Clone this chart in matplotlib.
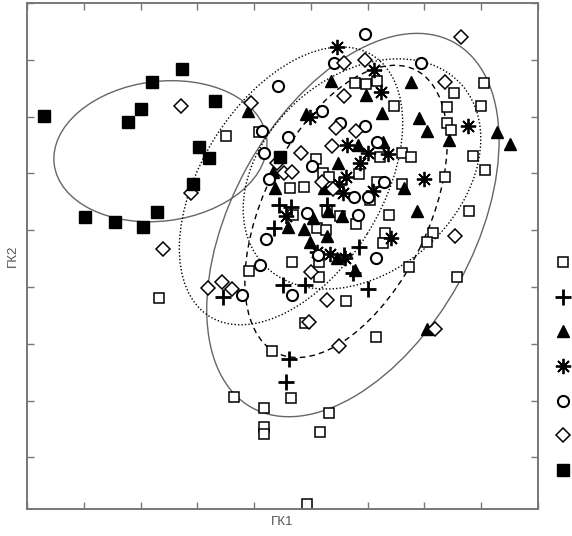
import numpy as np
import matplotlib
matplotlib.use("Agg")
import matplotlib.pyplot as plt
from matplotlib.patches import Ellipse

plt.rcParams['font.family'] = ['Liberation Sans', 'DejaVu Sans']

# --- данные (ГК1, ГК2) ---
sq_x = [-0.49, 0.09, -1.67, -0.09, 0.32, -0.35, 0.18, 0.18, 0.18, 0.65, 1.32, 1.16, 0.93,
        2.15, 3.57, 1.62, 2.73, 0.67, 1.14, 0.90, 4.05, 4.00, 3.52, 3.40, 3.40, 3.47, 3.86,
        4.07, 3.79, 3.36, 2.61, 2.76, 2.46, 1.78, 1.97, 2.17, 1.85, 1.09, 1.21, 1.32, 0.63,
        0.88, 2.22, 2.17, 2.61, 2.04, 1.29, 1.51, 1.80, 1.11, 1.27, 0.69, 2.38, 2.31, 2.27,
        3.15, 3.05, 1.14]
sq_y = [2.66, 2.73, -0.19, 0.28, -1.13, -1.94, -2.13, -2.46, -2.59, -1.95, -2.22, -2.55, -3.82,
        -0.88, 0.18, -0.25, 0.35, 0.44, 0.18, -0.63, 3.59, 3.19, 3.42, 3.17, 2.89, 2.76, 2.31,
        2.06, 1.34, 1.94, 2.36, 2.29, 3.19, 3.59, 3.57, 3.63, 1.99, 2.25, 2.01, 1.94, 1.74,
        1.76, 2.29, 1.85, 1.81, 1.53, 1.34, 1.25, 1.11, 1.04, 1.00, 1.27, 1.27, 0.95, 0.77,
        0.95, 0.79, 0.44]

plus_x = [0.44, 0.65, 0.35, 1.29, 1.85, 1.58, 1.74, 2.01, 0.51, 0.90, -0.55, 0.62, 0.56]
plus_y = [1.44, 1.41, 1.04, 1.44, 0.70, 0.56, 0.25, -0.04, 0.04, 0.04, -0.18, -1.27, -1.67]

tri_x = [-0.11, 1.36, 0.92, 1.97, 2.76, 2.25, 2.90, 3.05, 4.28, 4.51, 3.43, 2.87, 2.64, 1.83,
         2.27, 1.48, 1.23, 1.30, 1.55, 1.04, 0.60, 0.88, 1.29, 0.99, 1.46, 0.33, 0.37, 1.78, 3.05]
tri_y = [3.10, 3.63, 3.05, 3.38, 3.61, 3.06, 2.98, 2.75, 2.73, 2.52, 2.59, 1.34, 1.74, 2.50,
         2.55, 2.18, 1.74, 1.34, 1.25, 1.21, 1.06, 1.02, 0.90, 0.79, 0.51, 2.02, 1.74, 0.30, -0.74]

ast_x = [1.46, 2.11, 2.24, 0.99, 3.77, 2.99, 1.64, 2.01, 2.36, 1.87, 1.62, 1.50, 1.57, 2.10,
         2.41, 1.11, 0.56, 1.34, 1.60]
ast_y = [4.23, 3.82, 3.43, 2.99, 2.83, 1.90, 2.50, 2.36, 2.34, 2.18, 1.94, 1.81, 1.65, 1.69,
         0.86, 0.62, 1.25, 0.58, 0.51]

circ_x = [1.95, 2.94, 1.41, 0.42, 1.20, 0.14, 0.60, 0.18, 0.26, 1.51, 1.95, 2.17, 1.02, 2.29,
          1.76, 2.01, 1.83, 0.93, 1.13, 0.21, 0.11, -0.21, 0.67, 2.15]
circ_y = [4.45, 3.94, 3.94, 3.54, 3.10, 2.75, 2.64, 2.36, 1.90, 2.89, 2.83, 2.55, 2.13, 1.85,
          1.58, 1.58, 1.27, 1.30, 0.56, 0.85, 0.39, -0.14, -0.14, 0.51]

dia_x = [-1.29, -0.05, -1.11, -1.60, 1.58, 3.64, 1.95, 3.36, 1.58, 1.44, 1.80, 1.37, 0.83, 0.40,
         0.53, 0.67, 1.20, 1.39, -0.81, -0.56, -0.39, 1.00, 1.29, 0.97, 1.50, 3.19, 3.54]
dia_y = [3.19, 3.24, 1.65, 0.67, 3.94, 4.40, 4.00, 3.61, 3.36, 2.80, 2.75, 2.48, 2.36, 2.18,
         2.01, 2.02, 1.85, 1.73, -0.02, 0.09, -0.04, 0.26, -0.23, -0.62, -1.04, -0.74, 0.90]

fsq_x = [-3.70, -1.80, -1.27, -1.99, -2.22, -0.69, -0.97, -0.79, -1.07, -2.98, -2.45, -1.95, -1.71, 0.46]
fsq_y = [3.01, 3.61, 3.84, 3.13, 2.90, 3.27, 2.46, 2.27, 1.81, 1.23, 1.14, 1.06, 1.32, 2.29]

# эллипсы: центр, ширина, высота, угол
ell_cx = [1.74, -1.65, 0.65, 1.90, 1.62]
ell_cy = [1.09, 2.39, 1.78, 1.99, 1.33]
ell_w = [7.35, 3.77, 5.42, 4.71, 5.55]
ell_h = [4.25, 2.46, 3.17, 3.43, 2.90]
ell_ang = [61, 7, 58, 42, 64]
ell_style = ['-', '-', (0, (1, 1.5)), (0, (1, 1.5)), (0, (4, 3))]
ell_color = ['#666666', '#666666', 'black', 'black', 'black']

fig = plt.figure(figsize=(5.72, 5.36), dpi=100)
ax = fig.add_axes([27 / 572, 27 / 536, 511 / 572, 506 / 536])

for cx, cy, w, h, a, ls, c in zip(ell_cx, ell_cy, ell_w, ell_h, ell_ang, ell_style, ell_color):
    ax.add_patch(Ellipse((cx, cy), w, h, angle=a, fill=False, ls=ls, color=c, lw=1.0))

groups = [
    (sq_x, sq_y, dict(marker='s', ms=7, mfc='white', mec='black', mew=1.1)),
    (plus_x, plus_y, dict(marker='+', ms=12, mec='black', mew=2.0)),
    (tri_x, tri_y, dict(marker='^', ms=8, mfc='black', mec='black')),
    (ast_x, ast_y, dict(marker=(8, 2, 0), ms=11, mec='black', mew=1.3)),
    (circ_x, circ_y, dict(marker='o', ms=8, mfc='white', mec='black', mew=1.5)),
    (dia_x, dia_y, dict(marker='D', ms=7, mfc='white', mec='black', mew=1.1)),
    (fsq_x, fsq_y, dict(marker='s', ms=9, mfc='black', mec='black')),
]
for gx, gy, st in groups:
    ax.plot(gx, gy, ls='none', **st)

ax.set_xlim(-4, 5)
ax.set_ylim(-3.91, 5)
ax.set_xticks(range(-4, 6))
ax.set_yticks(range(-3, 6))
ax.tick_params(direction='in', length=5, width=1, colors='#777777',
               top=True, right=True, labelbottom=False, labelleft=False)
for s in ax.spines.values():
    s.set_color('#777777')
    s.set_linewidth(1.4)
ax.set_xlabel('ГК1', fontsize=9.5, color='#555555', labelpad=5)
ax.set_ylabel('ГК2', fontsize=9.5, color='#555555', labelpad=6)

# легенда без подписей — только маркеры
lg = fig.add_axes([548 / 572, 48.6 / 536, 30 / 572, 242.7 / 536])
for i, (gx, gy, st) in enumerate(groups):
    lg.plot([0], [i], ls='none', **st)
lg.set_xlim(-1, 1)
lg.set_ylim(6.5, -0.5)
lg.axis('off')

fig.savefig('out.png', dpi=100)
